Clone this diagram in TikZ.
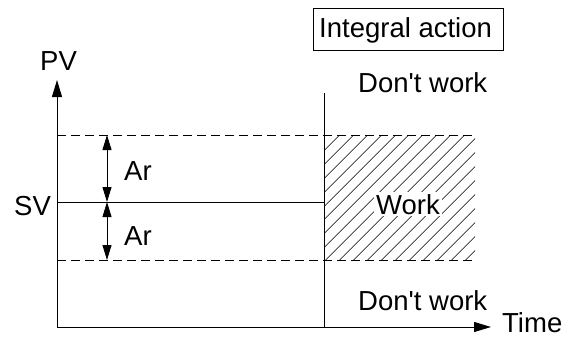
\documentclass[tikz,border=0pt]{standalone}
\usepackage{fontspec}
\setmainfont{Liberation Sans}
\usetikzlibrary{arrows.meta,patterns.meta}

\begin{document}
\begin{tikzpicture}[x=1pt,y=-1pt,
	every node/.style={font=\fontsize{27.5}{32}\selectfont, inner sep=0pt, anchor=base west},
	axis/.style={line width=1pt, -{Stealth[length=17pt,width=10pt,inset=0pt]}},
	band/.style={line width=1pt, dash pattern=on 9pt off 5pt},
	gap/.style={line width=1pt, {Stealth[length=15pt,width=9pt,inset=0pt]}-{Stealth[length=15pt,width=9pt,inset=0pt]}},
	hatch/.style={pattern={Lines[angle=45,distance=10.5pt,line width=0.7pt]}}]
	\def\xo{57}
	\def\xs{324}
	\def\xe{475}
	\def\yhi{135}
	\def\ysv{202}
	\def\ylo{260}
	\def\ybase{327}
	\useasboundingbox (0,0) rectangle (571,338);

	% zone where integral action works
	\fill[hatch] (\xs,\yhi) rectangle (\xe,\ylo);

	% axes
	\coordinate (O) at (\xo,\ybase);
	\coordinate (ytop) at (\xo,80);
	\coordinate (xend) at (491,\ybase);
	\draw[axis] (O) -- (ytop);
	\draw[axis] (O) -- (xend);
	\node (pv) at (40,70) {PV};
	\node (time) at (502,332) {Time};

	% set value and band
	\coordinate (svl) at (\xo,\ysv);
	\coordinate (svr) at (\xs,\ysv);
	\draw[line width=1pt] (svl) -- (svr);
	\node (sv) at (14,215) {SV};
	\foreach \y/\nm in {\yhi/hi,\ylo/lo}{
		\coordinate (\nm l) at (\xo,\y);
		\coordinate (\nm r) at (\xe,\y);
		\draw[band] (\nm l) -- (\nm r);
	}

	% switch-on time
	\coordinate (st) at (\xs,93);
	\coordinate (sb) at (\xs,\ybase);
	\draw[line width=1pt] (st) -- (sb);

	% Ar arrows
	\coordinate (a1) at (107,\yhi);
	\coordinate (a2) at (107,\ysv);
	\coordinate (a3) at (107,\ylo);
	\draw[gap] (a1) -- (a2);
	\draw[gap] (a2) -- (a3);
	\node (ar1) at (124,180) {Ar};
	\node (ar2) at (124,245) {Ar};

	% labels
	\draw[line width=0.8pt] (313,8) rectangle (503,50);
	\node (ia) at (319,37) {Integral action};
	\node (dw1) at (358,92) {Don\textquotesingle t work};
	\node[fill=white, inner sep=2pt] (wk) at (374,214) {Work};
	\node (dw2) at (358,310) {Don\textquotesingle t work};
\end{tikzpicture}
\end{document}
